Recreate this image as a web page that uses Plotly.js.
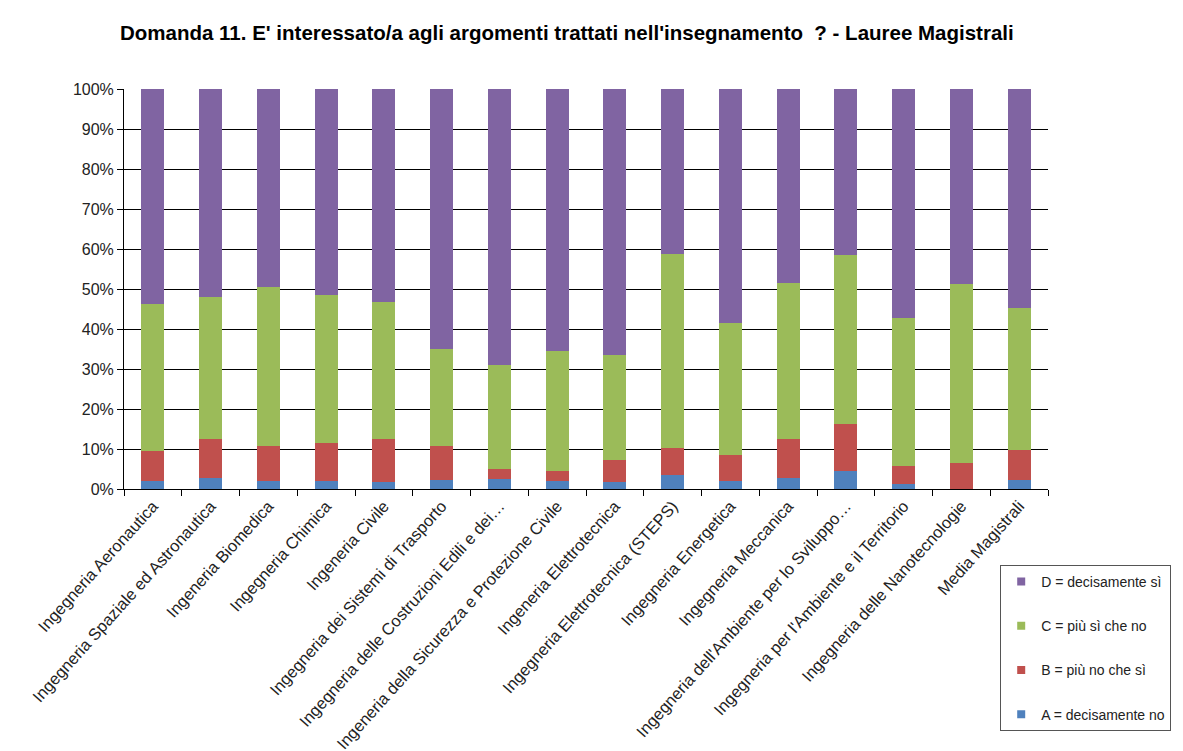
<!DOCTYPE html>
<html>
<head>
<meta charset="utf-8">
<script src="https://cdn.plot.ly/plotly-3.0.1.min.js"></script>
<style>html,body{margin:0;padding:0;background:#fff;}#chart{width:1183px;height:751px;}</style>
</head>
<body>
<div id="chart"></div>
<script>
const categories = [
  "Ingegneria Aeronautica",
  "Ingegneria Spaziale ed Astronautica",
  "Ingeneria Biomedica",
  "Ingegneria Chimica",
  "Ingeneria Civile",
  "Ingegneria dei Sistemi di Trasporto",
  "Ingegneria delle Costruzioni Edili e dei…",
  "Ingeneria della Sicurezza e Protezione Civile",
  "Ingeneria Elettrotecnica",
  "Ingegneria Elettrotecnica (STEPS)",
  "Ingegneria Energetica",
  "Ingegneria Meccanica",
  "Ingegneria dell'Ambiente per lo Sviluppo…",
  "Ingegneria per l'Ambiente e il Territorio",
  "Ingegneria delle Nanotecnologie",
  "Media Magistrali"
];
const seriesA = [2.0, 2.8, 2.0, 2.1, 1.8, 2.2, 2.5, 1.9, 1.7, 3.5, 1.9, 2.7, 4.6, 1.2, 0.0, 2.2];
const seriesB = [7.5, 9.8, 8.8, 9.5, 10.8, 8.6, 2.4, 2.7, 5.5, 6.7, 6.5, 9.9, 11.7, 4.6, 6.6, 7.6];
const seriesC = [36.7, 35.3, 39.8, 36.9, 34.1, 24.1, 26.0, 30.0, 26.3, 48.5, 33.0, 39.0, 42.1, 36.9, 44.7, 35.5];
const seriesD = [53.8, 52.1, 49.4, 51.5, 53.3, 65.1, 69.1, 65.4, 66.5, 41.3, 58.6, 48.4, 41.6, 57.3, 48.7, 54.7];
const seriesNames = ["A = decisamente no", "B = più no che sì", "C = più sì che no", "D = decisamente sì"];
const yTickVals = [0,10,20,30,40,50,60,70,80,90,100];
const yTickText = ["0%","10%","20%","30%","40%","50%","60%","70%","80%","90%","100%"];

const colors = ["#4F81BD", "#C0504D", "#9BBB59", "#8064A2"];
const allSeries = [seriesA, seriesB, seriesC, seriesD];
const traces = allSeries.map((vals, i) => ({
  type: "bar",
  name: seriesNames[i],
  x: categories,
  y: vals,
  marker: {color: colors[i], line: {width: 0}},
  showlegend: false,
  hoverinfo: "x+y+name"
}));
// legend-only entries (small square swatches), listed D, C, B, A
for (let i = 3; i >= 0; i--) {
  traces.push({
    type: "scatter", mode: "markers",
    name: seriesNames[i],
    x: [null], y: [null],
    marker: {color: colors[i], symbol: "square", size: 8},
    legendgroup: "g" + (3 - i),
    showlegend: true
  });
}

const L = 124, R = 131, T = 89, B = 262;
const plotW = 1183 - L - R, plotH = 751 - T - B;

const layout = {
  width: 1183, height: 751,
  paper_bgcolor: "#fff", plot_bgcolor: "#fff",
  barmode: "stack",
  bargap: 0.6,
  margin: {l: L, r: R, t: T, b: B},
  title: {
    text: "Domanda 11. E' interessato/a agli argomenti trattati nell'insegnamento  ? - Lauree Magistrali",
    font: {family: "Liberation Sans, Arial, sans-serif", size: 20.5, color: "#000", weight: 700},
    x: 567 / 1183, xanchor: "center", xref: "paper",
    y: 1 - 33 / 751, yanchor: "middle"
  },
  font: {family: "Liberation Sans, Arial, sans-serif", color: "#222"},
  xaxis: {
    type: "category",
    tickangle: -48,
    tickfont: {size: 16.5, color: "#222"},
    ticks: "outside", ticklen: 6, tickcolor: "#000",
    tickson: "boundaries",
    showline: true, linecolor: "#000", linewidth: 1,
    showgrid: false,
    automargin: false
  },
  yaxis: {
    range: [0, 100],
    tickvals: yTickVals, ticktext: yTickText,
    tickfont: {size: 16, color: "#222"},
    ticks: "outside", ticklen: 6, tickcolor: "#000",
    showline: true, linecolor: "#000", linewidth: 1,
    showgrid: true, gridcolor: "#000", gridwidth: 1,
    zeroline: false,
    automargin: false
  },
  legend: {
    x: (1004 - L) / plotW, xanchor: "left", xref: "paper",
    y: -(565 - (T + plotH)) / plotH, yanchor: "top", yref: "paper",
    traceorder: "grouped",
    tracegroupgap: 23,
    bordercolor: "#555", borderwidth: 1,
    bgcolor: "#fff",
    font: {size: 14, color: "#222"},
    itemwidth: 30
  },
  showlegend: true
};

Plotly.newPlot("chart", traces, layout, {displayModeBar: false, staticPlot: true});
</script>
</body>
</html>
